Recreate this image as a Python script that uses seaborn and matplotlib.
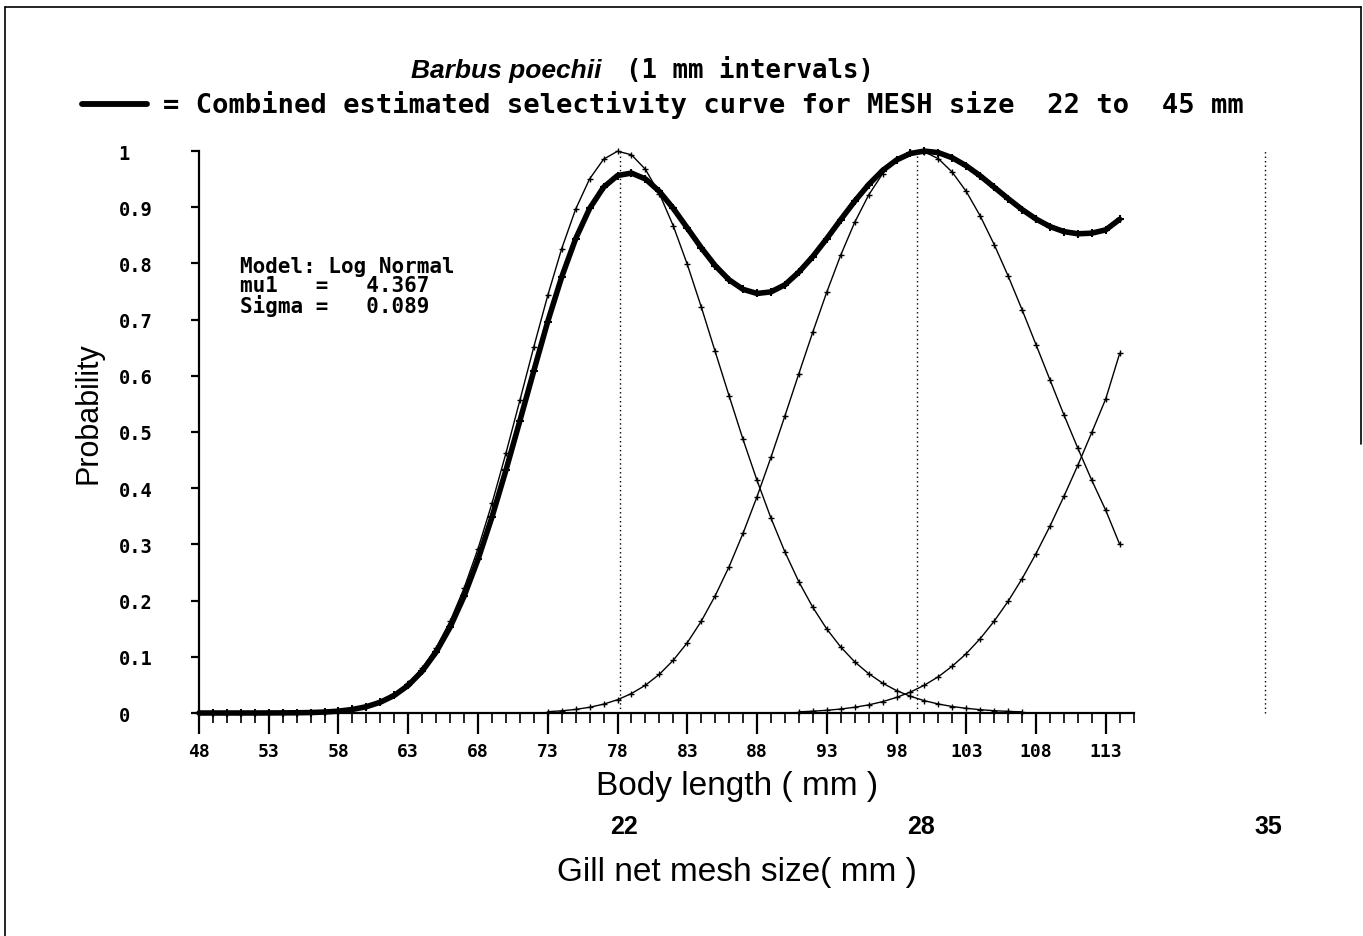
import matplotlib
matplotlib.use("Agg")
import matplotlib.pyplot as plt
import seaborn as sns
from matplotlib.lines import Line2D

sns.set_style("white")
plt.rcParams["font.family"] = ["DejaVu Sans Mono", "DejaVu Sans"]
plt.rcParams["text.color"] = "black"
plt.rcParams["axes.labelcolor"] = "black"
plt.rcParams["xtick.color"] = "black"
plt.rcParams["ytick.color"] = "black"

# ---------------- data ----------------
length_combined = list(range(48, 115))
combined = [0.0000, 0.0000, 0.0000, 0.0000, 0.0000, 0.0001, 0.0002, 0.0004, 0.0008, 0.0017,
            0.0033, 0.0063, 0.0112, 0.0192, 0.0313, 0.0492, 0.0745, 0.1085, 0.1526, 0.2075,
            0.2732, 0.3485, 0.4318, 0.5198, 0.6088, 0.6966, 0.7758, 0.8438, 0.8977, 0.9355,
            0.9563, 0.9607, 0.9503, 0.9281, 0.8978, 0.8631, 0.8280, 0.7961, 0.7707, 0.7538,
            0.7465, 0.7493, 0.7619, 0.7845, 0.8122, 0.8440, 0.8778, 0.9105, 0.9402, 0.9653,
            0.9840, 0.9956, 0.9999, 0.9971, 0.9879, 0.9737, 0.9558, 0.9356, 0.9153, 0.8959,
            0.8790, 0.8656, 0.8566, 0.8527, 0.8538, 0.8597, 0.8785]

length_22 = list(range(48, 108))
sel_22 = [0.0000, 0.0000, 0.0000, 0.0000, 0.0000, 0.0001, 0.0002, 0.0004, 0.0009, 0.0018,
          0.0036, 0.0067, 0.0120, 0.0205, 0.0335, 0.0526, 0.0797, 0.1161, 0.1633, 0.2220,
          0.2923, 0.3729, 0.4620, 0.5562, 0.6514, 0.7430, 0.8262, 0.8965, 0.9503, 0.9853,
          0.9996, 0.9933, 0.9674, 0.9243, 0.8667, 0.7985, 0.7229, 0.6433, 0.5643, 0.4868,
          0.4140, 0.3469, 0.2866, 0.2335, 0.1881, 0.1495, 0.1175, 0.0911, 0.0701, 0.0532,
          0.0399, 0.0297, 0.0219, 0.0160, 0.0115, 0.0083, 0.0059, 0.0041, 0.0029, 0.0020]

length_28 = list(range(73, 115))
sel_28 = [0.0023, 0.0039, 0.0064, 0.0102, 0.0157, 0.0236, 0.0346, 0.0494, 0.0688, 0.0939,
          0.1250, 0.1631, 0.2085, 0.2604, 0.3198, 0.3848, 0.4549, 0.5286, 0.6038, 0.6778,
          0.7488, 0.8146, 0.8729, 0.9215, 0.9595, 0.9853, 0.9983, 0.9985, 0.9863, 0.9622,
          0.9280, 0.8845, 0.8336, 0.7778, 0.7177, 0.6555, 0.5929, 0.5306, 0.4711, 0.4140,
          0.3607, 0.3000]

length_35 = list(range(91, 115))
sel_35 = [0.0021, 0.0032, 0.0048, 0.0071, 0.0102, 0.0144, 0.0202, 0.0277, 0.0373, 0.0495,
          0.0646, 0.0834, 0.1056, 0.1323, 0.1634, 0.1987, 0.2389, 0.2836, 0.3324, 0.3854,
          0.4409, 0.4993, 0.5590, 0.6400]

mesh_sizes = ["22", "28", "35"]
mesh_modes = [78.2, 99.5, 124.4]

x_major_ticks = list(range(48, 114, 5))
x_minor_ticks = list(range(48, 116))
y_ticks = [0, 0.1, 0.2, 0.3, 0.4, 0.5, 0.6, 0.7, 0.8, 0.9, 1.0]
y_tick_labels = ["0", "0.1", "0.2", "0.3", "0.4", "0.5", "0.6", "0.7", "0.8", "0.9", "1"]

model_lines = ["Model: Log Normal", "mu1   =   4.367", "Sigma =   0.089"]

# ---------------- figure ----------------
W, H = 1363, 937
fig = plt.figure(figsize=(W / 100, H / 100), dpi=100)
fig.patch.set_facecolor("white")


def fx(px):
    return px / W


def fy(py):
    return 1 - py / H


ax = fig.add_axes([fx(199), fy(714), 1116 / W, 562 / H])
ax.set_facecolor("white")
ax.set_xlim(48, 128)
ax.set_ylim(0, 1)

for xs, ys in [(length_22, sel_22), (length_28, sel_28), (length_35, sel_35)]:
    sns.lineplot(x=xs, y=ys, ax=ax, color="black", linewidth=1.0, marker="+",
                 markersize=5, markeredgewidth=1.0, markeredgecolor="black",
                 clip_on=False, zorder=3)

sns.lineplot(x=length_combined, y=combined, ax=ax, color="black", linewidth=4.0,
             marker="+", markersize=6, markeredgewidth=1.5, markeredgecolor="black",
             clip_on=False, zorder=4)

for m in mesh_modes:
    ax.plot([m, m], [0, 1], color="black", linewidth=1.0, linestyle=(0, (1, 2.2)),
            clip_on=False, zorder=2)

# spines / ticks
for s in ["top", "right"]:
    ax.spines[s].set_visible(False)
for s in ["left", "bottom"]:
    ax.spines[s].set_color("black")
    ax.spines[s].set_linewidth(1.6)
ax.spines["bottom"].set_bounds(48, 115)

ax.set_xticks(x_major_ticks)
ax.set_xticks(x_minor_ticks, minor=True)
ax.set_xticklabels([str(t) for t in x_major_ticks])
ax.tick_params(axis="x", which="major", bottom=True, direction="out", length=15,
               width=1.6, color="black", pad=6, labelsize=13)
ax.tick_params(axis="x", which="minor", bottom=True, direction="out", length=7,
               width=1.2, color="black")
ax.set_yticks(y_ticks)
ax.set_yticklabels(y_tick_labels)
ax.tick_params(axis="y", which="major", left=True, direction="out", length=6,
               width=1.6, color="black", pad=52, labelsize=13.5)
for lbl in ax.get_xticklabels() + ax.get_yticklabels():
    lbl.set_fontweight("bold")
for lbl in ax.get_yticklabels():
    lbl.set_horizontalalignment("left")
ax.set_xlabel("")
ax.set_ylabel("")

# titles
fig.text(fx(506), fy(71), "Barbus poechii", ha="center", va="center",
         family="Liberation Sans", style="italic", fontweight="bold", fontsize=19)
fig.text(fx(750), fy(71), "(1 mm intervals)", ha="center", va="center",
         fontweight="bold", fontsize=18.5)
fig.add_artist(Line2D([fx(82), fx(147)], [fy(105), fy(105)], color="black",
                      linewidth=4.2))
fig.text(fx(163), fy(105), "= Combined estimated selectivity curve for MESH size  22 to  45 mm",
         ha="left", va="center", fontweight="bold", fontsize=19.5)

# model text (one block)
fig.text(fx(240), fy(257), "\n".join(model_lines), ha="left", va="top",
         fontweight="bold", fontsize=15, linespacing=0.95)

# axis labels
fig.text(fx(88), fy(413), "Probability", rotation=90, ha="center", va="center",
         family="Liberation Sans", fontsize=22)
fig.text(fx(737), fy(787), "Body length ( mm )", ha="center", va="center",
         family="Liberation Sans", fontsize=24)
fig.text(fx(737), fy(873), "Gill net mesh size( mm )", ha="center", va="center",
         family="Liberation Sans", fontsize=24)

# mesh size labels under their modal lengths
for lab, m in zip(mesh_sizes, mesh_modes):
    ax.annotate(lab, xy=(m, 0), xycoords="data", xytext=(4, -113),
                textcoords="offset pixels", ha="center", va="center",
                family="Liberation Sans", fontweight="bold", fontsize=18,
                annotation_clip=False)

# outer frame
fig.add_artist(Line2D([fx(5), fx(5)], [fy(8), fy(937)], color="black", linewidth=1.2))
fig.add_artist(Line2D([fx(5), fx(1361)], [fy(8), fy(8)], color="black", linewidth=1.2))
fig.add_artist(Line2D([fx(1361), fx(1361)], [fy(8), fy(445)], color="black", linewidth=1.2))

fig.savefig("out.png", dpi=100, facecolor="white")
